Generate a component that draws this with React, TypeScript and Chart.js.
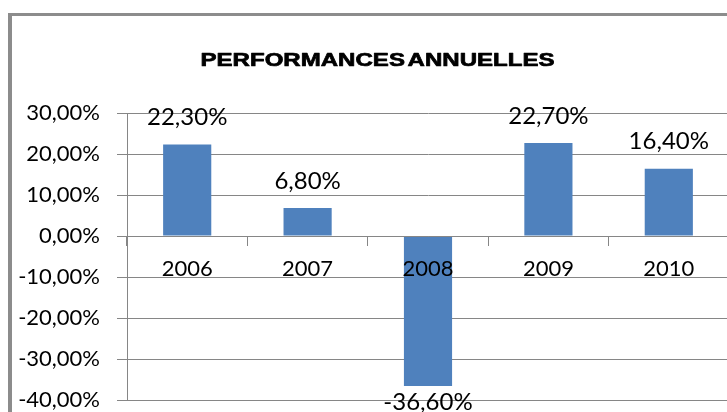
import React, { useEffect, useRef } from "react";
import { Chart, registerables } from "chart.js";

Chart.register(...registerables);

const chartTitle = "PERFORMANCES ANNUELLES";
const years = ["2006", "2007", "2008", "2009", "2010"];
const performances = [22.3, 6.8, -36.6, 22.7, 16.4];
const yMin = -40;
const yMax = 30;
const yStep = 10;

const CANVAS_W = 760;
const CANVAS_H = 440;

const fmt = (v: number) => v.toFixed(2).replace(".", ",") + "%";

const framePlugin = {
  id: "frame",
  beforeDraw(chart: any) {
    const ctx = chart.ctx;
    ctx.save();
    ctx.fillStyle = "#ffffff";
    ctx.fillRect(0, 0, chart.width, chart.height);
    ctx.fillStyle = "#8c8c8c";
    ctx.fillRect(8, 13, chart.width, 3);
    ctx.fillRect(8, 13, 4, chart.height);
    ctx.restore();
  },
};

const titlePlugin = {
  id: "stretchedTitle",
  afterDraw(chart: any) {
    const ctx = chart.ctx;
    ctx.save();
    ctx.font = 'bold 18.5px "Liberation Sans", Arial, sans-serif';
    ctx.fillStyle = "#000000";
    ctx.strokeStyle = "#000000";
    ctx.lineWidth = 0.7;
    ctx.lineJoin = "round";
    ctx.textAlign = "center";
    ctx.textBaseline = "alphabetic";
    ctx.translate(377.5, 66);
    ctx.scale(1.3, 1);
    const words = chartTitle.split(" ");
    const gap = 2;
    const w0 = ctx.measureText(words[0]).width;
    const w1 = ctx.measureText(words[1]).width;
    const total = w0 + gap + w1;
    ctx.textAlign = "left";
    ctx.fillText(words[0], -total / 2, 0);
    ctx.strokeText(words[0], -total / 2, 0);
    ctx.fillText(words[1], -total / 2 + w0 + gap, 0);
    ctx.strokeText(words[1], -total / 2 + w0 + gap, 0);
    ctx.restore();
  },
};

const valueLabelPlugin = {
  id: "valueLabels",
  afterDatasetsDraw(chart: any) {
    const ctx = chart.ctx;
    const meta = chart.getDatasetMeta(0);
    const values = chart.data.datasets[0].data as number[];
    ctx.save();
    ctx.font = '24px Lato, sans-serif';
    ctx.fillStyle = "#000000";
    ctx.textAlign = "center";
    ctx.textBaseline = "middle";
    meta.data.forEach((bar: any, i: number) => {
      const v = values[i];
      const y = v >= 0 ? bar.y - 27 : bar.y + 16;
      ctx.fillText(fmt(v), bar.x, y);
    });
    ctx.restore();
  },
};

export default function App() {
  const canvasRef = useRef<HTMLCanvasElement | null>(null);

  useEffect(() => {
    if (!canvasRef.current) return;
    const chart = new Chart(canvasRef.current, {
      type: "bar",
      data: {
        labels: years,
        datasets: [
          {
            data: performances,
            backgroundColor: "#4F81BD",
            borderWidth: 0,
            barPercentage: 0.4,
            categoryPercentage: 1,
          },
        ],
      },
      options: {
        responsive: false,
        maintainAspectRatio: false,
        animation: false,
        events: [],
        layout: {
          padding: { top: 113, bottom: CANVAS_H - 400, left: 0, right: CANVAS_W - 729 },
        },
        plugins: {
          legend: { display: false },
          title: { display: false },
          tooltip: { enabled: false },
        },
        scales: {
          x: {
            position: { y: 0 } as any,
            offset: true,
            grid: {
              offset: true,
              drawOnChartArea: false,
              drawTicks: true,
              tickLength: 9,
              color: "#868686",
              z: 1,
            },
            border: { color: "#868686", width: 1, z: 1 },
            ticks: {
              z: 1,
              font: { family: "Lato", size: 22 },
              color: "#000000",
              padding: 11,
              maxRotation: 0,
              autoSkip: false,
            },
          },
          y: {
            min: yMin,
            max: yMax,
            grid: {
              color: "#868686",
              tickLength: 10,
              drawTicks: true,
            },
            border: { color: "#868686", width: 1 },
            ticks: {
              stepSize: yStep,
              font: { family: "Lato", size: 22 },
              color: "#000000",
              padding: 17,
              callback: (v: any) => fmt(Number(v)),
            },
            afterFit: (s: any) => {
              s.width = 127;
            },
          },
        },
      },
      plugins: [framePlugin, valueLabelPlugin, titlePlugin],
    });
    return () => chart.destroy();
  }, []);

  return (
    <div
      style={{
        position: "fixed",
        left: 0,
        top: 0,
        width: 727,
        height: 412,
        overflow: "hidden",
        background: "#ffffff",
      }}
    >
      <canvas
        ref={canvasRef}
        width={CANVAS_W}
        height={CANVAS_H}
        style={{ width: CANVAS_W, height: CANVAS_H, display: "block" }}
      />
    </div>
  );
}
